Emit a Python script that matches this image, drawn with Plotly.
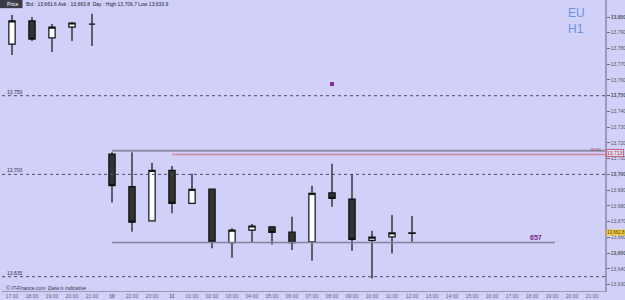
import plotly.graph_objects as go

# ---- data ----
tick_labels = ["17:00", "18:00", "19:00", "20:00", "21:00", "<b>10</b>", "22:00", "23:00", "<b>11</b>",
               "01:00", "02:00", "03:00", "04:00", "05:00", "06:00", "07:00", "08:00", "09:00",
               "10:00", "11:00", "12:00", "13:00", "14:00", "15:00", "16:00", "17:00", "18:00",
               "19:00", "20:00", "21:00"]
slots = list(range(21))
opens  = [13782.8, 13797.5, 13786.7, 13793.6, 13795.5, 13712.9, 13692.2, 13670.4, 13702.6, 13681.6,
          13690.7, 13656.6, 13664.6, 13666.7, 13663.4, 13657.1, 13688.3, 13684.3, 13658.1, 13660.3, 13662.5]
highs  = [13801.3, 13800.0, 13795.6, 13796.8, 13802.0, 13714.0, 13714.0, 13707.4, 13705.3, 13700.4,
          13690.7, 13665.7, 13668.4, 13666.7, 13673.0, 13692.8, 13706.7, 13699.8, 13664.2, 13674.2, 13673.5]
lows   = [13775.9, 13784.7, 13777.8, 13784.7, 13781.6, 13682.2, 13663.6, 13670.4, 13675.3, 13681.6,
          13653.0, 13647.0, 13656.6, 13655.5, 13651.9, 13645.1, 13679.4, 13651.5, 13633.9, 13649.8, 13657.2]
closes = [13797.5, 13786.0, 13793.6, 13796.2, 13795.5, 13692.8, 13669.6, 13702.6, 13681.6, 13690.5,
          13656.9, 13664.6, 13667.2, 13663.2, 13656.6, 13687.9, 13684.8, 13658.7, 13660.1, 13662.8, 13662.8]

y_ticks = list(range(13630, 13801, 10))
dotted_levels = [13750, 13700, 13635]
dotted_labels = ["13,750", "13,700", "13,635"]
resistance_level = 13715.0
fib_level = 13712.7
support_level = 13656.7
current_price = 13662.8
signal_slot = 16
signal_value = 13757.4

BG = "#d0d0f8"
X0, X1 = -0.5, 29.65
Y0, Y1 = 13625.9, 13810.8

fig = go.Figure()

fig.add_trace(go.Candlestick(
    x=slots, open=opens, high=highs, low=lows, close=closes,
    increasing=dict(fillcolor="#ffffff", line=dict(color="#111111", width=1.2)),
    decreasing=dict(fillcolor="#333333", line=dict(color="#111111", width=1.2)),
    whiskerwidth=0, showlegend=False, hoverinfo="skip"))

fig.add_trace(go.Scatter(x=[signal_slot], y=[signal_value], mode="markers",
                         marker=dict(symbol="square", size=4, color="#8a2a9a"),
                         showlegend=False, hoverinfo="skip"))

shapes = []
for lv in dotted_levels:
    shapes.append(dict(type="line", xref="x", yref="y", x0=X0, x1=X1, y0=lv, y1=lv,
                       line=dict(color="#4a4a66", width=1, dash="dot")))
shapes.append(dict(type="line", xref="x", yref="y", x0=5, x1=X1, y0=resistance_level, y1=resistance_level,
                   line=dict(color="#8c8ca4", width=2)))
shapes.append(dict(type="line", xref="x", yref="y", x0=8, x1=X1, y0=fib_level, y1=fib_level,
                   line=dict(color="#d4849c", width=1.5)))
shapes.append(dict(type="line", xref="x", yref="y", x0=5, x1=27.15, y0=support_level, y1=support_level,
                   line=dict(color="#84849c", width=1.5)))
# header "Price" box
shapes.append(dict(type="rect", xref="paper", yref="paper", x0=-0.004, x1=0.034, y0=0.972, y1=1.0,
                   fillcolor="#3c3c48", line=dict(width=0)))

annotations = []
for lv, lab in zip(dotted_levels, dotted_labels):
    annotations.append(dict(x=X0, y=lv, xref="x", yref="y", text=lab, showarrow=False,
                            xanchor="left", yanchor="bottom", xshift=3, yshift=-1,
                            font=dict(size=5, color="#333344", family="Arial")))
annotations += [
    dict(x=0.005, y=0.9875, xref="paper", yref="paper", text="Price", showarrow=False,
         xanchor="left", yanchor="middle", font=dict(size=5, color="#ffffff", family="Arial")),
    dict(x=0.037, y=0.987, xref="paper", yref="paper",
         text="Bid : 13,661.6 Ask : 13,663.8  Day : High 13,706.7 Low 13,633.9", showarrow=False,
         xanchor="left", yanchor="middle", font=dict(size=5, color="#222233", family="Arial")),
    dict(x=0.936, y=0.985, xref="paper", yref="paper", text="EU<br>H1", showarrow=False,
         xanchor="left", yanchor="top", align="left",
         font=dict(size=12, color="#6a92de", family="Arial")),
    dict(x=26.2, y=support_level, xref="x", yref="y", text="<b>657</b>", showarrow=False,
         xanchor="center", yanchor="bottom", yshift=0,
         font=dict(size=7, color="#7a2088", family="Arial")),
    dict(x=X1, y=fib_level, xref="x", yref="y", text="78.6%", showarrow=False,
         xanchor="right", yanchor="bottom", xshift=-1, yshift=0,
         font=dict(size=4, color="#b03050", family="Arial")),
    dict(x=1.0, y=fib_level + 0.6, xref="paper", yref="y", text="13,713", showarrow=False,
         xanchor="left", yanchor="middle", xshift=1, bgcolor="#e8e0f4", bordercolor="#c06080",
         borderwidth=1, borderpad=0, font=dict(size=5, color="#902040", family="Arial")),
    dict(x=1.0, y=current_price, xref="paper", yref="y", text="13,662.8", showarrow=False,
         xanchor="left", yanchor="middle", xshift=1, bgcolor="#f0d040", borderpad=0,
         font=dict(size=4.5, color="#553300", family="Arial")),
    dict(x=0.004, y=0.0, xref="paper", yref="paper",
         text="<i>© IT-Finance.com  Data is indicative</i>", showarrow=False,
         xanchor="left", yanchor="middle", yshift=3,
         font=dict(size=5, color="#333344", family="Arial")),
]

ytext = [("<b>" if v % 50 == 0 else "") + f"{v:,}" + ("</b>" if v % 50 == 0 else "") for v in y_ticks]

fig.update_layout(
    width=625, height=300,
    margin=dict(l=2, r=20, t=0, b=9),
    paper_bgcolor=BG, plot_bgcolor=BG,
    boxgap=0.55,
    shapes=shapes, annotations=annotations,
    xaxis=dict(range=[X0, X1], tickmode="array", tickvals=list(range(len(tick_labels))),
               ticktext=tick_labels, showgrid=False, zeroline=False, rangeslider=dict(visible=False),
               tickfont=dict(size=5, color="#666677", family="Arial"), ticks="", ticklen=0,
               showline=True, linecolor="#9a9ab8", linewidth=1, mirror=False),
    yaxis=dict(range=[Y0, Y1], side="right", tickmode="array", tickvals=y_ticks, ticktext=ytext,
               showgrid=False, zeroline=False, ticks="outside", ticklen=3, tickcolor="#666677",
               tickfont=dict(size=5, color="#555566", family="Arial"),
               showline=True, linecolor="#9a9ab8", linewidth=1.5),
)

fig.write_html("out.html")
